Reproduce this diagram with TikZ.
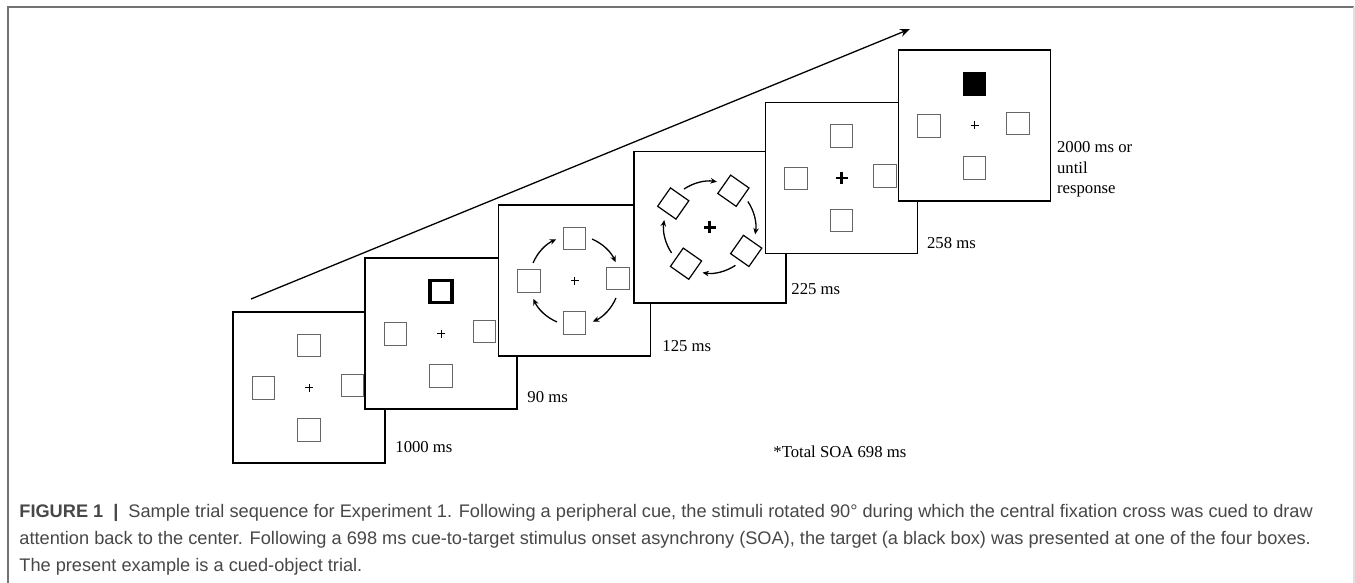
\documentclass[tikz,border=0pt]{standalone}
\usepackage{fontspec}
\setmainfont{Liberation Serif}
\newfontfamily\capfont{Liberation Sans}
\usetikzlibrary{arrows.meta,calc}

\begin{document}
\begin{tikzpicture}[
    x=0.5pt, y=-0.5pt,
    frame/.style={draw, fill=white, line width=0.8pt, minimum width=76pt, minimum height=75.5pt, inner sep=0pt},
    stim/.style={draw=black!60, line width=0.6pt, minimum size=11.2pt, inner sep=0pt},
    cue/.style={stim, draw=black, line width=1.6pt, minimum size=11pt},
    target/.style={stim, draw=black, fill=black},
    tilted/.style={stim, draw=black, rotate=-35},
    turn/.style={-{Stealth[length=3.2pt,width=2.8pt]}, line width=0.65pt},
    seq/.style={-{Stealth[length=5pt,width=4pt]}, line width=0.65pt},
    timing/.style={font=\fontsize{8.35}{10.25}\selectfont, inner sep=0pt, anchor=west, align=left},
    fixcross/.pic={\draw[line width=0.5pt] (-4,0) -- (4,0) (0,-4) -- (0,4);},
    boldcross/.pic={\draw[line width=1.4pt] (-6,0) -- (6,0) (0,-6) -- (0,6);}
]
\useasboundingbox (0,0) rectangle (1355,583);

% page border
\draw[black!55, line width=0.8pt] (8,583) -- (8,7) -- (1354,7);
\draw[black!12, line width=0.6pt] (1354,7) -- (1354,583);

% time axis
\coordinate (seqstart) at (251,299);
\coordinate (seqend) at (910,29);
\draw[seq] (seqstart) -- (seqend);

% frames, back to front
\foreach \i/\cx/\cy in {1/309/387.5, 2/441/333.5, 3/574.5/280.5, 4/709.7/227.2, 5/841.5/178, 6/974.5/125.5}
  \node[frame] (f\i) at (\cx,\cy) {};

% upright placeholders
\foreach \f in {1,2,3,5,6} {
  \node[stim] (f\f-l) at ($(f\f)+(-45.5,0.5)$) {};
  \node[stim] (f\f-r) at ($(f\f)+(43.5,-2)$) {};
  \node[stim] (f\f-b) at ($(f\f)+(0,42.5)$) {};
}
\foreach \f in {1,3,5}
  \node[stim] (f\f-t) at ($(f\f)+(0,-42)$) {};
\node[cue] (f2-t) at ($(f2)+(0,-42)$) {};
\node[target] (f6-t) at ($(f6)+(0,-41.5)$) {};

% rotating placeholders
\foreach \a/\n in {-90/t, 0/r, 90/b, 180/l}
  \node[tilted] (f4-\n) at ($(f4)+(\a+33:43.5)$) {};

% rotation arrows
\foreach \a in {180,270,0,90} {
  \draw[turn] ($(f3)+(\a+23:45)$) arc[start angle=\a+23, end angle=\a+66, radius=45];
  \draw[turn] ($(f4)+(\a+56:46)$) arc[start angle=\a+56, end angle=\a+99, radius=46];
}

% fixation
\foreach \f in {1,2,3,6} \pic at (f\f) {fixcross};
\foreach \f in {4,5} \pic at (f\f) {boldcross};

% durations
\node[timing] (t1) at (395,447) {1000 ms};
\node[timing] (t2) at (527,397) {90 ms};
\node[timing] (t3) at (662,345.7) {125 ms};
\node[timing] (t4) at (791,289) {225 ms};
\node[timing] (t5) at (926.7,242.7) {258 ms};
\node[timing, anchor=north west] (t6) at (1056.7,141) {2000 ms or\\until\\response};
\node[timing] (soa) at (773,451.7) {*Total SOA 698 ms};

% caption
\node[anchor=north west, align=left, inner sep=0pt, text=black!72,
      font=\capfont\fontsize{9.1}{13.6}\selectfont] (caption) at (19,504)
  {\textbf{FIGURE 1}\hspace{5pt}\textbf{|}\hspace{5pt}Sample trial sequence for Experiment 1. Following a peripheral cue, the stimuli rotated 90° during which the central fixation cross was cued to draw\\
   attention back to the center. Following a 698 ms cue-to-target stimulus onset asynchrony (SOA), the target (a black box) was presented at one of the four boxes.\\
   The present example is a cued-object trial.};
\end{tikzpicture}
\end{document}
